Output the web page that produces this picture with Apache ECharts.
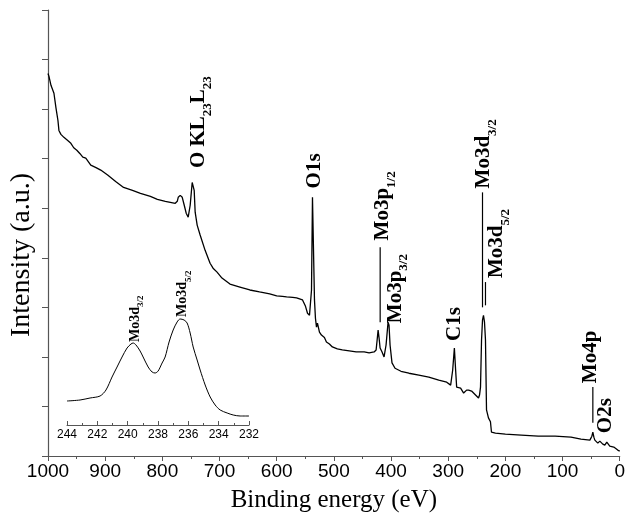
<!DOCTYPE html>
<html>
<head>
<meta charset="utf-8">
<script src="https://cdn.jsdelivr.net/npm/echarts@6/dist/echarts.min.js"></script>
<style>
html,body{margin:0;padding:0;background:#fff;}
#chart{width:628px;height:522px;}
</style>
</head>
<body>
<div id="chart"></div>
<script>
// ---- Main survey spectrum ----
const energy = [1000,998.3,994.8,989.6,986,982.6,980.9,977.4,972.2,966,960,955,949.6,944,939.1,933.9,925.2,916,907.8,895.7,881.7,867.8,852.2,838.3,820.9,808.7,794.8,786.1,777.4,773.9,772.2,768.7,765.2,761.7,758.3,754.8,751.3,747.8,746.1,744.3,742.6,739.1,733.9,725.2,716.5,711.3,708,704.3,695.7,681.7,664.3,647,630,612.2,600,590,582.6,572,565.2,554.8,549.6,546.1,542.6,539.1,537.4,535.7,533.9,532.2,530.4,528.7,525.2,521.7,519,516.5,513,507.8,502.6,493.9,485.2,473,461,447,438.3,429.6,426.1,424.3,422.6,420.9,419.1,415.7,412.2,408.7,405.2,403.5,401.7,398.3,393,382.6,368.7,351.3,333.9,316.5,302.6,295.7,293.9,292.2,289.2,287,285.2,278.3,273,267.8,264.3,259.1,255.7,252.2,247,245.2,243.5,241.7,240,238.3,236.5,234.8,233,231.3,229.6,226.1,224.3,220.9,217.4,200,172.2,142.6,113,85.2,67.8,52.2,48.7,47,45.2,43.5,38.3,34.8,33,29.6,26.1,22.6,20.9,17.4,15.7,10.4,8.7,3.5,0];
const intensity = [7.72,7.66,7.48,7.32,7.02,6.77,6.57,6.49,6.43,6.37,6.31,6.22,6.17,6.10,6.03,6.01,5.87,5.82,5.77,5.67,5.54,5.42,5.36,5.30,5.24,5.18,5.14,5.12,5.10,5.14,5.22,5.26,5.22,5.06,4.90,4.82,5.06,5.52,5.56,5.36,4.92,4.66,4.46,4.15,3.89,3.79,3.83,3.71,3.59,3.47,3.41,3.35,3.31,3.27,3.23,3.22,3.21,3.20,3.19,3.15,3.02,2.88,2.84,3.35,5.22,5.22,3.15,2.78,2.60,2.68,2.50,2.44,2.47,2.39,2.30,2.26,2.20,2.16,2.14,2.12,2.10,2.10,2.08,2.10,2.14,2.34,2.54,2.38,2.18,2.10,2.00,2.24,2.70,2.64,2.24,1.88,1.77,1.71,1.67,1.63,1.59,1.53,1.49,1.43,1.39,1.73,2.18,1.73,1.39,1.37,1.27,1.33,1.33,1.31,1.33,1.23,1.17,1.23,1.39,2.34,2.74,2.84,2.70,2.34,0.93,0.85,0.77,0.69,0.48,0.46,0.46,0.44,0.42,0.40,0.40,0.38,0.34,0.32,0.40,0.48,0.38,0.32,0.26,0.30,0.32,0.24,0.22,0.28,0.26,0.20,0.18,0.18,0.16,0.12,0.10];

// ---- Inset: Mo3d high-resolution ----
const insetEnergy = [244,243.14,242.48,241.82,241.43,241.03,240.70,240.37,240.04,239.78,239.64,239.45,239.18,238.98,238.65,238.39,238.19,237.99,237.73,237.53,237.27,237.0,236.74,236.54,236.28,236.08,235.88,235.68,235.42,235.22,234.89,234.56,234.23,233.90,233.44,233.04,232.58,232];
const insetIntensity = [0.192,0.20,0.216,0.232,0.28,0.384,0.464,0.544,0.616,0.648,0.656,0.64,0.592,0.544,0.464,0.424,0.416,0.432,0.496,0.544,0.664,0.76,0.824,0.848,0.84,0.816,0.736,0.624,0.52,0.44,0.32,0.224,0.16,0.12,0.096,0.08,0.072,0.072];

// ---- Peak annotations (main) ----
const peakText = ['{b|O KL}{s|23}{b|L}{s|23}','{b|O1s}','{b|Mo3p}{s|1/2}','{b|Mo3p}{s|3/2}','{b|C1s}','{b|Mo3d}{s|3/2}','{b|Mo3d}{s|5/2}','{b|Mo4p}','{b|O2s}'];
const peakLabelX = [727.6, 525.3, 406.6, 384.1, 280, 229.1, 207, 41.8, 15.7];
const peakLabelY = [5.81, 5.40, 4.35, 2.68, 2.32, 5.40, 3.59, 1.47, 0.46];
const leaderX  = [null, null, 419, null, null, 240, 234.8, 47, null];
const leaderY1 = [null, null, 4.21, null, null, 5.32, 3.51, 1.39, null];
const leaderY2 = [null, null, 2.70, null, null, 3.00, 3.04, 0.67, null];

// ---- Inset annotations ----
const insetText = ['{b|Mo3d}{s|3/2}','{b|Mo3d}{s|5/2}'];
const insetLabelX = [239.31, 236.17];
const insetLabelY = [0.664, 0.864];

const serif = "'Liberation Serif','Times New Roman',serif";
const sans = "'Liberation Sans',Arial,sans-serif";

function makeRich(big, small, drop) {
  return {
    b: {fontFamily: serif, fontWeight: 'bold', fontSize: big, lineHeight: big, padding: [0,0,drop,0], verticalAlign: 'bottom', fill: '#000'},
    s: {fontFamily: serif, fontWeight: 'bold', fontSize: small, lineHeight: small, verticalAlign: 'bottom', fill: '#000'}
  };
}
const mainRich = makeRich(21, 13, 5);
const insetRich = makeRich(14, 9, 3);

function labelRenderer(texts, rich, lx, ly1, ly2) {
  return function (params, api) {
    const i = params.dataIndex;
    const p = api.coord([api.value(0), api.value(1)]);
    const children = [{
      type: 'text', x: p[0], y: p[1], rotation: Math.PI / 2,
      style: {text: texts[i], rich: rich, align: 'left', verticalAlign: 'middle', fill: '#000'}
    }];
    if (lx && lx[i] != null) {
      const a = api.coord([lx[i], ly1[i]]);
      const b = api.coord([lx[i], ly2[i]]);
      children.push({type: 'line', shape: {x1: a[0], y1: a[1], x2: b[0], y2: b[1]}, style: {stroke: '#000', lineWidth: 1.2}});
    }
    return {type: 'group', children: children};
  };
}

const chart = echarts.init(document.getElementById('chart'), null, {renderer: 'canvas'});
const axisColor = '#555';
chart.setOption({
  animation: false,
  backgroundColor: '#fff',
  grid: [
    {left: 47, right: 6, top: 10, bottom: 66},
    {left: 67, width: 182, top: 300, height: 125}
  ],
  xAxis: [
    {
      type: 'value', gridIndex: 0, inverse: true, min: 0, max: 1000, interval: 100,
      name: 'Binding energy (eV)', nameLocation: 'middle', nameGap: 32,
      nameTextStyle: {fontFamily: serif, fontSize: 25, color: '#000'},
      axisLine: {onZero: false, lineStyle: {color: axisColor, width: 1.2}},
      axisTick: {inside: false, length: 5, lineStyle: {color: axisColor}},
      minorTick: {show: true, splitNumber: 2, length: 3, lineStyle: {color: axisColor}},
      axisLabel: {fontFamily: sans, fontSize: 19, color: '#000', margin: 6, formatter: v => String(v)},
      splitLine: {show: false}
    },
    {
      type: 'value', gridIndex: 1, inverse: true, min: 232, max: 244, interval: 2,
      axisLine: {onZero: false, lineStyle: {color: axisColor, width: 1}},
      axisTick: {inside: true, length: 4, lineStyle: {color: axisColor}},
      minorTick: {show: true, splitNumber: 2, length: 2, lineStyle: {color: axisColor}},
      axisLabel: {fontFamily: sans, fontSize: 12, color: '#000', margin: 4},
      splitLine: {show: false}
    }
  ],
  yAxis: [
    {
      type: 'value', gridIndex: 0, position: 'left', min: 0, max: 9, interval: 1,
      name: 'Intensity (a.u.)', nameLocation: 'middle', nameGap: 12,
      nameTextStyle: {fontFamily: serif, fontSize: 28, color: '#000', padding: [0, 44, 0, 0]},
      axisLine: {show: true, onZero: false, lineStyle: {color: axisColor, width: 1.2}},
      axisTick: {show: true, inside: false, length: 6, lineStyle: {color: axisColor}},
      axisLabel: {show: false},
      splitLine: {show: false}
    },
    {type: 'value', gridIndex: 1, min: 0, max: 1, show: false}
  ],
  series: [
    {
      type: 'line', xAxisIndex: 0, yAxisIndex: 0, symbol: 'none',
      lineStyle: {color: '#000', width: 1.3},
      data: energy.map((e, i) => [e, intensity[i]])
    },
    {
      type: 'line', xAxisIndex: 1, yAxisIndex: 1, symbol: 'none', smooth: 0.3,
      lineStyle: {color: '#000', width: 1},
      data: insetEnergy.map((e, i) => [e, insetIntensity[i]])
    },
    {
      type: 'custom', coordinateSystem: 'cartesian2d', xAxisIndex: 0, yAxisIndex: 0, silent: true, clip: false,
      renderItem: labelRenderer(peakText, mainRich, leaderX, leaderY1, leaderY2),
      data: peakLabelX.map((x, i) => [x, peakLabelY[i]])
    },
    {
      type: 'custom', coordinateSystem: 'cartesian2d', xAxisIndex: 1, yAxisIndex: 1, silent: true, clip: false,
      renderItem: labelRenderer(insetText, insetRich, null, null, null),
      data: insetLabelX.map((x, i) => [x, insetLabelY[i]])
    }
  ]
});
</script>
</body>
</html>
